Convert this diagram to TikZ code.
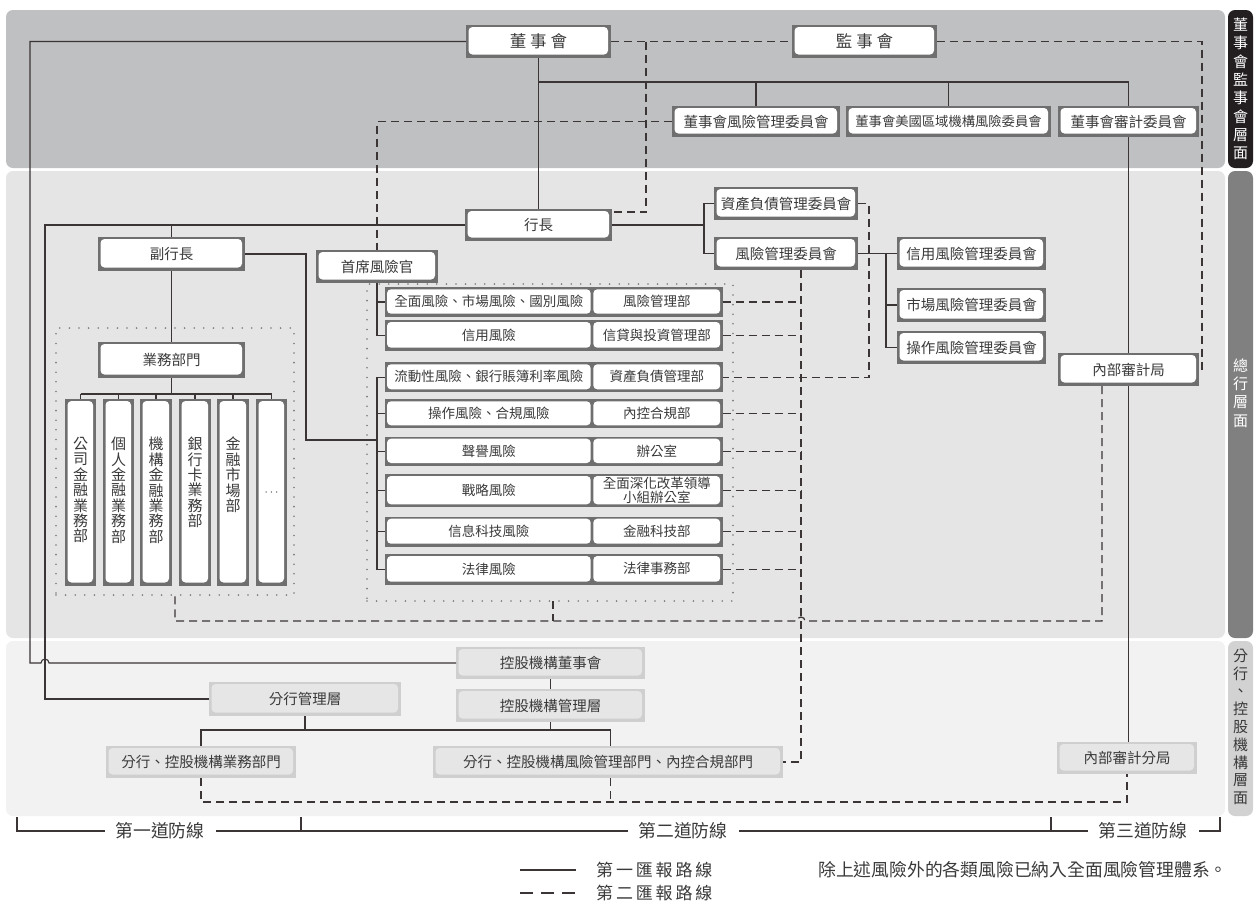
\documentclass[tikz,border=0pt]{standalone}
\usepackage{fontspec}
\setmainfont{Noto Sans CJK TC}
\usetikzlibrary{calc}
\definecolor{bandA}{HTML}{BFC0C2}
\definecolor{bandB}{HTML}{E5E5E5}
\definecolor{bandC}{HTML}{F2F2F2}
\definecolor{tabA}{HTML}{231F20}
\definecolor{tabB}{HTML}{808080}
\definecolor{tabC}{HTML}{D2D2D2}
\definecolor{frm}{HTML}{6F6F6F}
\definecolor{frmL}{HTML}{CFCFCF}
\definecolor{inL}{HTML}{E6E6E6}
\definecolor{txt}{HTML}{3A3A3A}
\definecolor{lc}{HTML}{3B3536}
\definecolor{dotc}{HTML}{7A7A7A}
\pgfdeclarelayer{back}
\pgfdeclarelayer{bg}
\pgfsetlayers{back,bg,main}
\newcommand\fsz[2]{\fontsize{#1}{#2}\selectfont}
\newcommand\mybox[7]{%
 \pgfmathsetmacro\mbw{#5-#3}\pgfmathsetmacro\mbh{#6-#4}%
 \pgfmathsetmacro\mbx{(#3+#5)/2}\pgfmathsetmacro\mby{(#4+#6)/2}%
 \node[#1, minimum width=\mbw pt, minimum height=\mbh pt] (#2) at (\mbx,\mby) {#7};}
\newcommand\riskrow[5]{%
 \mybox{rowf}{r#1}{385}{#2}{722.7}{#3}{}%
 \pgfmathsetmacro\rwT{#2+2}\pgfmathsetmacro\rwB{#3-3}%
 \mybox{rin}{r#1a}{387}{\rwT}{590.7}{\rwB}{#4}%
 \mybox{rin}{r#1b}{593.3}{\rwT}{720.2}{\rwB}{#5}}
\tikzset{
 wbox/.style={fill=frm, inner sep=0pt, outer sep=0pt, text=txt, font=\fsz{14.5}{16}, align=center,
   path picture={\fill[white, rounded corners=4pt] ([xshift=2.5pt,yshift=-2pt]path picture bounding box.north west) rectangle ([xshift=-3pt,yshift=3.5pt]path picture bounding box.south east);}},
 lbox/.style={fill=frmL, inner sep=0pt, outer sep=0pt, text=txt, font=\fsz{14.5}{16}, align=center,
   path picture={\fill[inL, rounded corners=4pt] ([xshift=2.5pt,yshift=-2pt]path picture bounding box.north west) rectangle ([xshift=-3pt,yshift=3.5pt]path picture bounding box.south east);}},
 rowf/.style={fill=frm, inner sep=0pt, outer sep=0pt},
 rin/.style={fill=white, rounded corners=4pt, inner sep=0pt, outer sep=0pt, text=txt, font=\fsz{13.5}{14.5}, align=center},
 sl/.style={draw=lc, line width=1.1pt},
 dl/.style={draw=lc, line width=1.2pt, dash pattern=on 8pt off 5pt},
 dotbox/.style={draw=dotc, line width=1.8pt, dash pattern=on 0pt off 9.6pt, line cap=round, inner sep=0pt, outer sep=0pt},
 vtxt/.style={align=center, inner sep=0pt, text=txt, font=\fsz{15}{15.4}},
 brk/.style={fill=white, font=\fsz{17.8}{19}, text=txt, inner xsep=11pt, inner ysep=2pt},
 lgd/.style={anchor=west, inner sep=0pt, text=txt},
}
\begin{document}
\begin{tikzpicture}[x=1pt,y=-1pt]
\useasboundingbox (0,0) rectangle (1254,903);
\begin{pgfonlayer}{back}
\fill[white] (0,0) rectangle (1254,903);
\fill[bandA, rounded corners=7pt] (6,10) rectangle (1225,168);
\fill[bandB, rounded corners=7pt] (6,171) rectangle (1225,638);
\fill[bandC, rounded corners=7pt] (6,641) rectangle (1225,816);
\fill[tabA, rounded corners=7pt] (1228,10) rectangle (1253,168);
\fill[tabB, rounded corners=7pt] (1228,171) rectangle (1253,638);
\fill[tabC, rounded corners=7pt] (1228,641) rectangle (1253,816);
\end{pgfonlayer}
% side tabs
\node[vtxt, text=white, font=\fsz{15}{18.3}] (tabAt) at (1240.5,89) {董\\事\\會\\監\\事\\會\\層\\面};
\node[vtxt, text=white, font=\fsz{15}{18.3}] (tabBt) at (1240.5,393) {總\\行\\層\\面};
\node[vtxt, font=\fsz{15}{17.8}] (tabCt) at (1240.5,727) {分\\行\\、\\控\\股\\機\\構\\層\\面};
% dotted groups
\mybox{dotbox}{bizgrp}{56}{328}{294}{595}{}
\mybox{dotbox}{riskgrp}{367}{284}{733}{601}{}
% boxes
\mybox{wbox}{dsh}{466}{25}{611}{58}{\fsz{16.5}{18}董\hspace{4pt}事\hspace{4pt}會}
\mybox{wbox}{jsh}{792}{25}{937}{58}{\fsz{16.5}{18}監\hspace{4pt}事\hspace{4pt}會}
\mybox{wbox}{rmc}{672}{106}{840}{137}{董事會風險管理委員會}
\mybox{wbox}{usc}{846}{106}{1051}{137}{\fsz{13.3}{15}董事會美國區域機構風險委員會}
\mybox{wbox}{adc}{1058}{106}{1199}{137}{董事會審計委員會}
\mybox{wbox}{hz}{465}{209}{612}{241}{行長}
\mybox{wbox}{fhz}{98}{237}{245}{271}{副行長}
\mybox{wbox}{cro}{316}{250}{438}{283}{首席風險官}
\mybox{wbox}{alco}{714}{187}{858}{220}{資產負債管理委員會}
\mybox{wbox}{rcm}{714}{237}{858}{270}{風險管理委員會}
\mybox{wbox}{crc}{897}{237}{1046}{270}{信用風險管理委員會}
\mybox{wbox}{mrc}{897}{288}{1046}{322}{市場風險管理委員會}
\mybox{wbox}{orc}{897}{331}{1046}{364}{操作風險管理委員會}
\mybox{wbox}{iad}{1058}{353}{1199}{386}{內部審計局}
\mybox{wbox}{biz}{98}{342}{245}{378}{業務部門}
\foreach \i/\a/\b in {1/65/96, 2/103/134, 3/140/172, 4/179/211, 5/217/249, 6/256/287} {\mybox{wbox}{col\i}{\a}{399}{\b}{586}{}}
\node[vtxt, anchor=north] (c1t) at (col1.north |- 0,437) {公\\司\\金\\融\\業\\務\\部};
\node[vtxt, anchor=north] (c2t) at (col2.north |- 0,437) {個\\人\\金\\融\\業\\務\\部};
\node[vtxt, anchor=north] (c3t) at (col3.north |- 0,437) {機\\構\\金\\融\\業\\務\\部};
\node[vtxt, anchor=north] (c4t) at (col4.north |- 0,437) {銀\\行\\卡\\業\\務\\部};
\node[vtxt, anchor=north] (c5t) at (col5.north |- 0,437) {金\\融\\市\\場\\部};
\node[vtxt] (c6t) at (col6.center) {\fsz{12}{12}$\cdots$};
% risk rows
\riskrow{1}{287.3}{316.7}{全面風險、市場風險、國別風險}{風險管理部}
\riskrow{2}{320}{350.7}{信用風險}{信貸與投資管理部}
\riskrow{3}{362.3}{392.3}{流動性風險、銀行賬簿利率風險}{資產負債管理部}
\riskrow{4}{399.3}{428.3}{操作風險、合規風險}{內控合規部}
\riskrow{5}{436.7}{466}{聲譽風險}{辦公室}
\riskrow{6}{474}{507.3}{戰略風險}{全面深化改革領導\\小組辦公室}
\riskrow{7}{516.7}{546.7}{信息科技風險}{金融科技部}
\riskrow{8}{554}{584.7}{法律風險}{法律事務部}
% bottom band boxes
\mybox{lbox}{kgdsh}{456}{647}{645}{679}{控股機構董事會}
\mybox{lbox}{kggl}{456}{689}{645}{722}{控股機構管理層}
\mybox{lbox}{fhgl}{209}{682}{401}{716}{分行管理層}
\mybox{lbox}{fhyw}{106}{746}{296}{778}{分行、控股機構業務部門}
\mybox{lbox}{fhfx}{433}{746}{783}{778}{分行、控股機構風險管理部門、內控合規部門}
\mybox{lbox}{iasub}{1057}{742}{1197}{774}{內部審計分局}
% ---------- solid connectors
\begin{pgfonlayer}{bg}
\draw[sl] (adc.south) -- (adc.south |- iasub.north);
\end{pgfonlayer}
\draw[sl] (hz.west) -| (fhgl.west -| 45,0) -- (fhgl.west);
\draw[sl] (dsh.west) -| (kgdsh.west -| 30,0) -- (kgdsh.west -| 41,0) arc[start angle=180,end angle=0,radius=4pt] -- (kgdsh.west);
\draw[sl] (hz.west -| fhz.north) -- (fhz.north);
\draw[sl] (fhz.south) -- (biz.north);
\draw[sl] (dsh.south) -- (hz.north);
\draw[sl] (dsh.south |- 0,82) -| (adc.north);
\draw[sl] (rmc.north |- 0,82) -- (rmc.north);
\draw[sl] (usc.north |- 0,82) -- (usc.north);
\draw[sl] (hz.east) -- (hz.east -| 704,0);
\draw[sl] (alco.west) -- ++(-10,0) |- (rcm.west);
\draw[sl] (rcm.east) -- (crc.west);
\draw[sl] (rcm.east) -- ++(28,0) |- (orc.west);
\draw[sl] (mrc.west) -- ++(-11,0);
\draw[sl] (fhz.east) -| (306,440) -- (377,440);
\draw[sl] (cro.south) |- (r2.west);
\draw[sl] (cro.south |- r1.west) -- (r1.west);
\draw[sl] (r3.west) -- ++(-8,0) |- (r8.west);
\foreach \i in {4,...,7} \draw[sl] (r\i.west) -- ++(-8,0);
\draw[sl] (biz.south) -- ++(0,16);
\draw[sl] (col1.north |- 0,394) -- (col6.north |- 0,394);
\foreach \i in {1,...,6} \draw[sl] (col\i.north) -- ++(0,-5);
\draw[sl] (kgdsh.south) -- (kggl.north);
\draw[sl] (kggl.south) -- ++(0,8);
\draw[sl] (fhgl.south) -- ++(0,14);
\coordinate (fxdrop) at ([xshift=2.5pt]fhfx.north);
\draw[sl] (fhyw.north) |- (fxdrop |- 0,730) -- (fxdrop);
% ---------- dashed connectors
\draw[dl] (dsh.east) -- (jsh.west);
\draw[dl] ([xshift=35pt]dsh.east) |- ([yshift=13pt]hz.east);
\draw[dl] (jsh.east) -| ([xshift=3pt]iad.east) -- (iad.east);
\draw[dl] (rmc.west) -| (cro.north);
\draw[dl] (alco.east) -- ++(11,0) |- (r3.east);
\coordinate (vx) at ([xshift=15pt]rcm.south);
\draw[dl] (vx) |- (fhfx.east);
\foreach \i in {1,2,4,5,6,7,8} \draw[dl] (r\i.east) -- (r\i.east -| vx);
\draw[dl] ([xshift=-26.5pt]iad.south) |- (805,621) arc[start angle=0,end angle=180,radius=4pt] -| (bizgrp.south);
\draw[dl] ([xshift=3pt]riskgrp.south) -- ++(0,20);
\draw[dl] (fhyw.south) |- ([yshift=-28pt]iasub.south) -- (iasub.south);
\draw[dl] ([xshift=2.5pt]fhfx.south) -- ++(0,24);
% ---------- lines of defence
\draw[sl] (17,817) -- (17,831) -- (1220,831) -- (1220,817);
\draw[sl] (301,817) -- (301,831);
\draw[sl] (1051,817) -- (1051,831);
\node[brk] (l1) at (160,831) {第一道防線};
\node[brk] (l2) at (683,831) {第二道防線};
\node[brk] (l3) at (1143,831) {第三道防線};
% ---------- legend
\draw[sl] (520,870) -- ++(56,0);
\node[lgd, font=\fsz{17}{19}] (lg1) at (596,870) {第\,一\,匯\,報\,路\,線};
\draw[sl, dash pattern=on 13pt off 8pt] (520,893) -- ++(55,0);
\node[lgd, font=\fsz{17}{19}] (lg2) at (596,893) {第\,二\,匯\,報\,路\,線};
\node[lgd, font=\fsz{17.8}{19}] (note) at (818,870) {除上述風險外的各類風險已納入全面風險管理體系。};
\end{tikzpicture}
\end{document}
